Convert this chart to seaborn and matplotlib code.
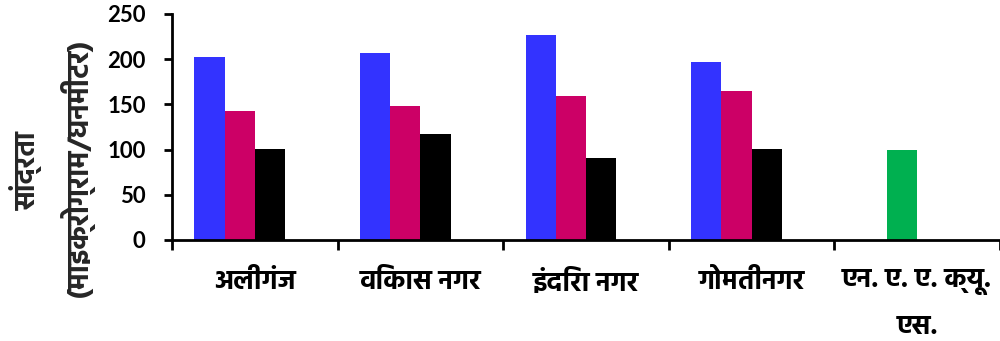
import matplotlib
matplotlib.use("Agg")
import matplotlib.pyplot as plt
from matplotlib import font_manager, ft2font
from matplotlib.font_manager import FontProperties
import numpy as np
import pandas as pd
import seaborn as sns

# Monitoring sites and the standard, with concentrations (µg/m³)
sites = ["अलीगंज", "विकास नगर", "इंदिरा नगर", "गोमतीनगर", "एन. ए. ए. क्यू.\nएस."]
series_names = ["s1", "s2", "s3", "s4"]
blue_vals = [202, 206.5, 227, 196.5, 0]
pink_vals = [142.5, 148, 159, 165, 100]   # last value is the standard limit
black_vals = [101, 117.5, 91, 100.5, 0]
spare_vals = [0, 0, 0, 0, 0]
series_colors = ["#3333FF", "#CC0066", "#000000", "#FFFFFF"]
standard_color = "#00B050"

y_ticks = [0, 50, 100, 150, 200, 250]
y_label_1 = "सांद्रता"
y_label_2 = "(माइक्रोग्राम/घनमीटर)"

preferred = ["Noto Sans Devanagari", "Hind", "Mukta", "Yantramanav",
             "Amiko", "Biryani"]


def devanagari_bold_file():
    """Path of a bold sans font file that covers Devanagari."""
    found = {}
    for fe in font_manager.fontManager.ttflist:
        if fe.style != "normal":
            continue
        try:
            w = int(fe.weight)
        except (TypeError, ValueError):
            w = 700 if fe.weight == "bold" else 400
        if w != 700:
            continue
        try:
            cmap = ft2font.FT2Font(fe.fname).get_charmap()
        except Exception:
            continue
        if 0x0915 in cmap:
            found.setdefault(fe.name, fe.fname)
    for name in preferred:
        if name in found:
            return found[name]
    return next(iter(found.values()), None)


sns.set_theme(style="white")
plt.rcParams["font.family"] = ["Lato", "DejaVu Sans"]
dev_file = devanagari_bold_file()


def dev_font(size):
    if dev_file:
        return FontProperties(fname=dev_file, size=size)
    return FontProperties(family=["DejaVu Sans"], weight="bold", size=size)


df = pd.DataFrame({
    "site": sites * 4,
    "series": np.repeat(series_names, len(sites)),
    "value": blue_vals + pink_vals + black_vals + spare_vals,
})

fig = plt.figure(figsize=(10, 3.41), dpi=100)
ax = fig.add_axes([0.172, 0.2962, 0.828, 0.6628])

sns.barplot(data=df, x="site", y="value", hue="series", order=sites,
            hue_order=series_names, palette=series_colors, width=0.73,
            gap=0, saturation=1, linewidth=0, legend=False, ax=ax)

# the standard's bar is shown in green
ax.containers[1][len(sites) - 1].set_facecolor(standard_color)

ax.set_xlim(-0.5, len(sites) - 0.5)
ax.set_ylim(0, 250)
ax.set_yticks(y_ticks)
ax.set_yticklabels([str(v) for v in y_ticks], fontsize=16, fontweight="bold",
                   color="black")

# boundary ticks between categories, labels at category centres
ax.set_xticks(np.arange(-0.5, len(sites)), labels=[""] * (len(sites) + 1))
ax.set_xticks(np.arange(len(sites)), minor=True)
ax.set_xticklabels(sites, minor=True, fontproperties=dev_font(19.5),
                   color="black", linespacing=2.05, va="top")
ax.tick_params(axis="x", which="major", direction="out", length=7, width=2,
               color="black", bottom=True)
ax.tick_params(axis="x", which="minor", length=0, pad=21, bottom=True)
ax.tick_params(axis="y", direction="out", length=6, width=2, color="black",
               pad=13, left=True)

ax.set_xlabel("")
ax.set_ylabel("")
for side in ("top", "right"):
    ax.spines[side].set_visible(False)
for side in ("left", "bottom"):
    ax.spines[side].set_linewidth(2)
    ax.spines[side].set_color("black")

fig.text(0.026, 0.50, y_label_1, rotation=90, ha="center", va="center",
         fontproperties=dev_font(20))
fig.text(0.077, 0.507, y_label_2, rotation=90, ha="center", va="center",
         fontproperties=dev_font(21))

fig.savefig("out.png", dpi=100, facecolor="white")
